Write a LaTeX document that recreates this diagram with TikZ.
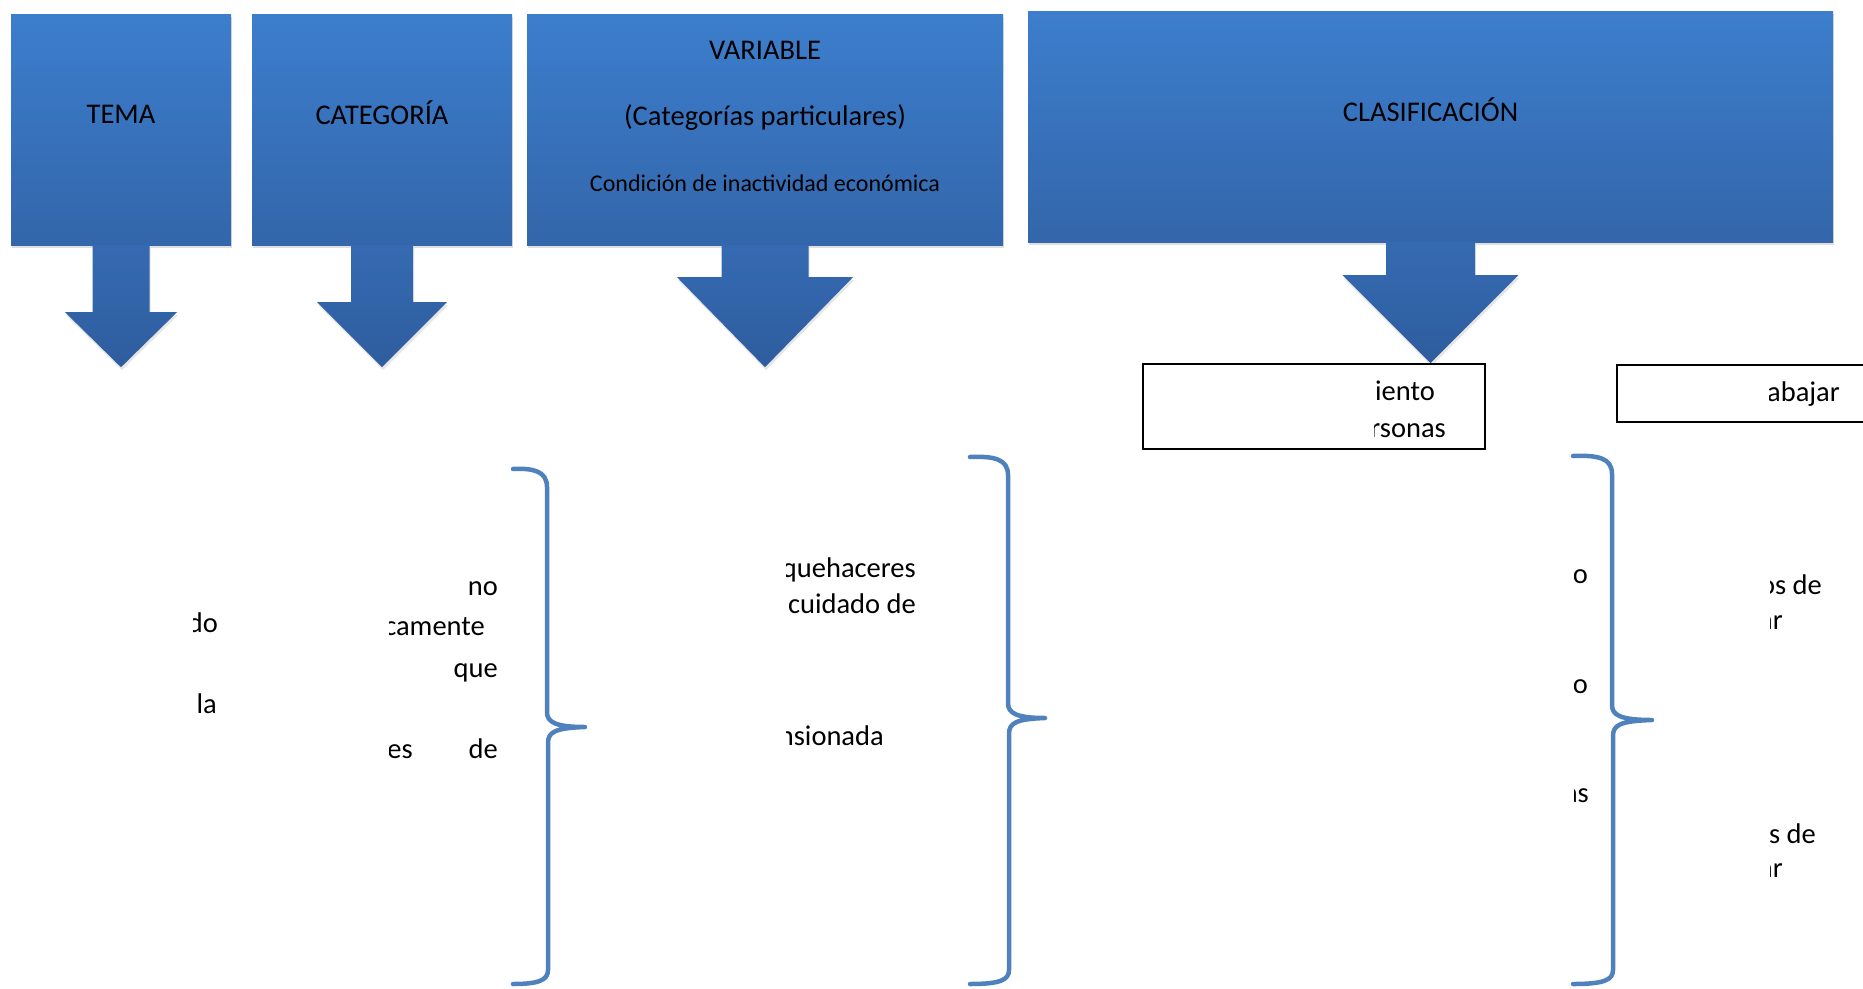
\documentclass[tikz,border=0pt]{standalone}
\usepackage{fontspec}
\setmainfont{Carlito}
\usetikzlibrary{shadows}

\definecolor{hdrtop}{RGB}{60,126,205}
\definecolor{hdrbot}{RGB}{51,102,170}
\definecolor{arrtop}{RGB}{53,106,178}
\definecolor{arrbot}{RGB}{46,93,158}
\definecolor{bracecol}{RGB}{79,129,189}

\tikzset{
  hdr/.style={rectangle, inner sep=0pt, top color=hdrtop, bottom color=hdrbot,
    drop shadow={opacity=0.25, shadow xshift=1pt, shadow yshift=-3pt}},
  hdrtxt/.style={inner sep=0pt, font=\fontsize{28.5}{34}\selectfont},
  wbox/.style={rectangle, draw=black, line width=2pt, fill=white, inner sep=0pt},
  frag/.style={inner sep=0pt, anchor=base east, font=\fontsize{28.5}{34}\selectfont},
  brace/.style={draw=bracecol, line width=4.5pt, line cap=round, line join=round},
  blockarrow/.style={top color=arrtop, bottom color=arrbot,
    drop shadow={opacity=0.2, shadow xshift=1pt, shadow yshift=-3pt}}
}

\begin{document}
\begin{tikzpicture}[x=1pt,y=-1pt]
    \useasboundingbox (0,0) rectangle (1863,988);
    % header boxes
    \node[hdr, minimum width=220pt, minimum height=231pt] (tema) at (121,129.5) {};
    \node[hdr, minimum width=260pt, minimum height=231pt] (cat) at (382,129.5) {};
    \node[hdr, minimum width=476pt, minimum height=231pt] (var) at (765,129.5) {};
    \node[hdr, minimum width=805pt, minimum height=231pt] (clas) at (1430.5,126.5) {};
    % titles
    \node[hdrtxt] (tematxt) at (121,114) {TEMA};
    \node[hdrtxt] (cattxt) at (382,113) {CATEGORÍA};
    \node[hdrtxt] (vartxt) at (765,50) {VARIABLE};
    \node[hdrtxt] (varsub) at (765,118) {(Categorías particulares)};
    \node[hdrtxt, font=\fontsize{24}{29}\selectfont] (varcond) at (765,183) {Condición de inactividad económica};
    \node[hdrtxt] (clastxt) at (1430.5,110) {CLASIFICACIÓN};
    % block arrows under the boxes
    \foreach \bx/\s/\h/\l/\t in {tema/28.5/56/67/55, cat/31/65/57/65, var/43.5/88/32/90, clas/44.5/88/33/88}
        \path[blockarrow] (\bx.south) ++(-\s,0) -- ++(0,\l) -- ++(\s-\h,0) -- ++(\h,\t)
            -- ++(\h,-\t) -- ++(\s-\h,0) -- ++(0,-\l) -- cycle;
    % white boxes
    \node[wbox, minimum width=342pt, minimum height=85pt] (vivbox) at (1314,406.5) {};
    \node[wbox, minimum width=300pt, minimum height=57pt] (trabox) at (1767,393.5) {};
    \begin{scope}
        \clip (1374,375) rectangle (1480,446);
        \node[frag] (viv1) at (1435,400) {iento};
        \node[frag] (viv2) at (1446,437) {rsonas};
    \end{scope}
    \begin{scope}
        \clip (1769,370) rectangle (1863,419);
        \node[frag] (tra1) at (1840,401) {abajar};
    \end{scope}
    % text columns, cut on the left
    \begin{scope}
        \clip (193,560) rectangle (240,760);
        \foreach \txt/\xe/\yb [count=\i] in {do/218/632, la/217/713}
            \node[frag] (temafrag\i) at (\xe,\yb) {\txt};
    \end{scope}
    \begin{scope}
        \clip (389,560) rectangle (510,780);
        \foreach \txt/\xe/\yb [count=\i] in {no/498/595, camente/485/635, que/498/677, es/413/758, de/498/758}
            \node[frag] (catfrag\i) at (\xe,\yb) {\txt};
    \end{scope}
    \begin{scope}
        \clip (786,540) rectangle (930,760);
        \foreach \txt/\xe/\yb [count=\i] in {quehaceres/916/577, cuidado de/916/613, nsionada/884/745}
            \node[frag] (varfrag\i) at (\xe,\yb) {\txt};
    \end{scope}
    \begin{scope}
        \clip (1574,550) rectangle (1600,820);
        \foreach \txt/\xe/\yb [count=\i] in {o/1588/583, o/1588/693, as/1589/802}
            \node[frag] (clasfrag\i) at (\xe,\yb) {\txt};
    \end{scope}
    \begin{scope}
        \clip (1770,560) rectangle (1863,890);
        \foreach \txt/\xe/\yb [count=\i] in {os de/1822/594, ar/1783/629, s de/1816/843, ar/1783/877}
            \node[frag] (trafrag\i) at (\xe,\yb) {\txt};
    \end{scope}
    % braces
    \foreach \xl/\xv/\xt/\yt/\ym in {513/547/585/469/727, 970/1008/1045/457/718, 1573/1612/1652/456/720}
        \draw[brace] (\xl,\yt) .. controls (\xv-14,\yt-1) and (\xv,\yt+2) .. (\xv,\yt+18)
            -- (\xv,\ym-15) .. controls (\xv,\ym-5) and (\xv+8,\ym) .. (\xt,\ym)
            .. controls (\xv+8,\ym+1) and (\xv+1,\ym+5) .. (\xv+1,\ym+16)
            -- (\xv+1,970) .. controls (\xv+1,980) and (\xv-8,984) .. (\xl,984);
\end{tikzpicture}
\end{document}
